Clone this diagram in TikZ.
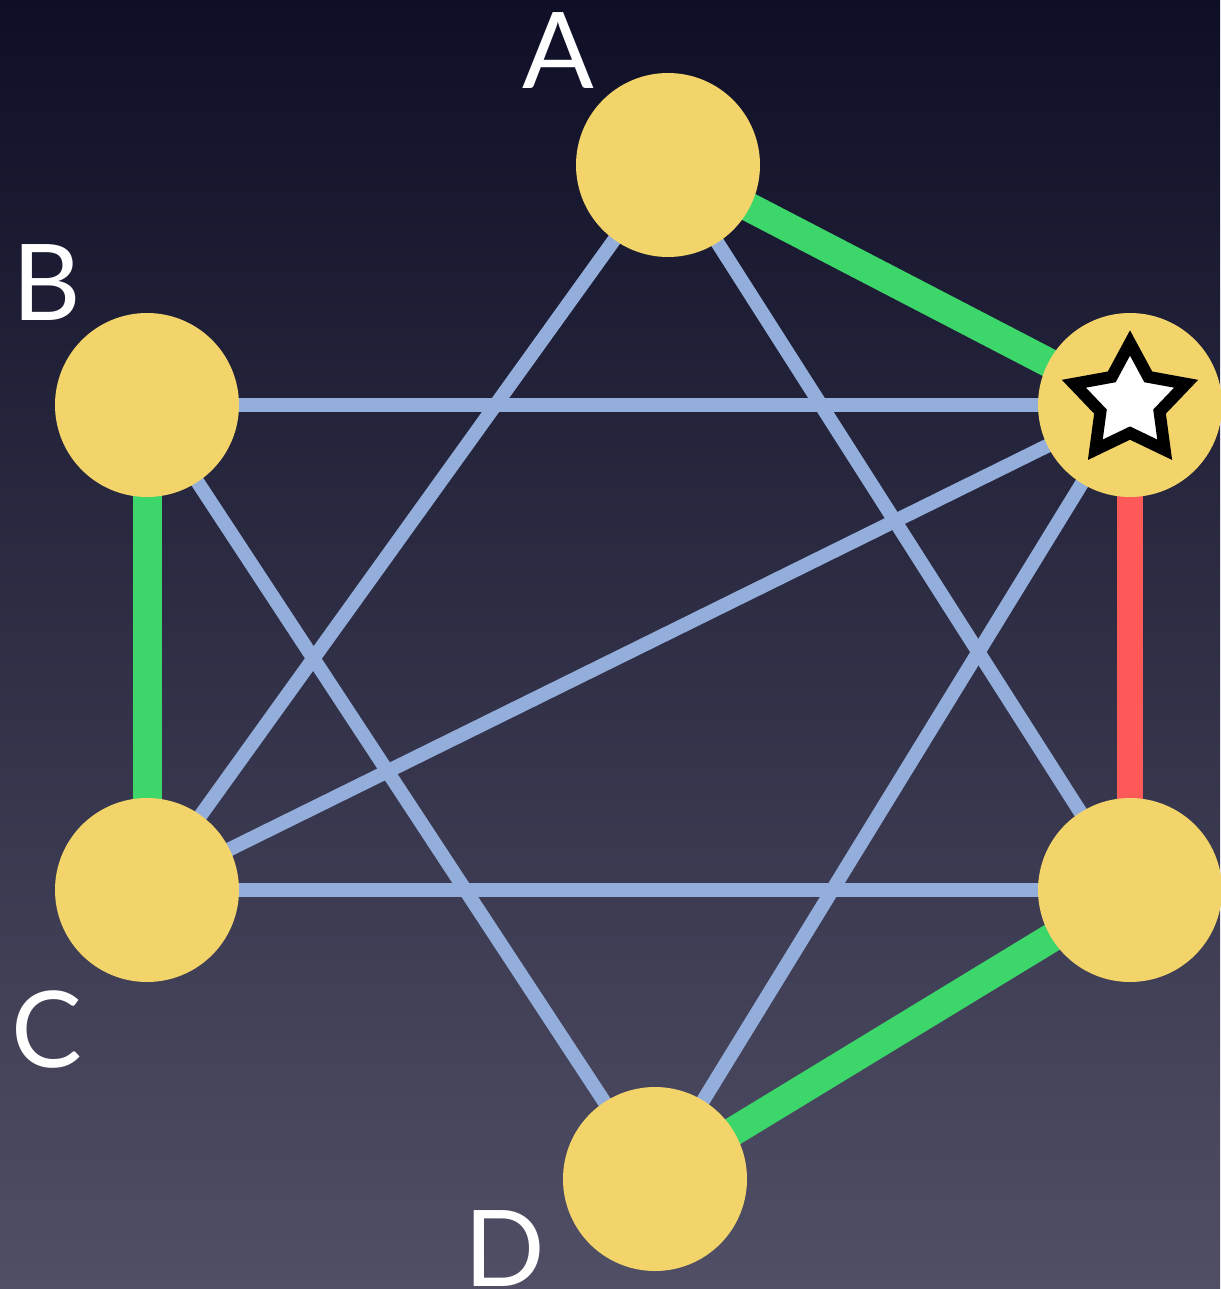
\documentclass[tikz,border=0pt]{standalone}
\usepackage{fontspec}
\setmainfont{Lato}
\usetikzlibrary{shapes.geometric}
\definecolor{skytop}{HTML}{0E0E26}
\definecolor{skybottom}{HTML}{504F66}
\definecolor{nodegold}{HTML}{F2D46A}
\definecolor{edgeblue}{HTML}{94AEDC}
\definecolor{pathgreen}{HTML}{3DD66A}
\definecolor{cutred}{HTML}{FD5959}
\pgfdeclarelayer{sky}
\pgfdeclarelayer{edges}
\pgfsetlayers{sky,edges,main}

\begin{document}
\begin{tikzpicture}[
    x=1pt, y=-1pt,
    vertex/.style={circle, fill=nodegold, minimum size=184pt, inner sep=0pt},
    plain/.style={edgeblue, line width=14pt},
    chosen/.style={pathgreen, line width=29pt},
    cut/.style={cutred, line width=26pt},
    letter/.style={white, anchor=base, font=\fontsize{106}{106}\selectfont}
]

    \useasboundingbox (0,0) rectangle (1220,1289);

    % Background
    \begin{pgfonlayer}{sky}
        \shade[top color=skytop, bottom color=skybottom] (0,0) rectangle (1220,1289);
    \end{pgfonlayer}

    % Vertices
    \node[vertex] (a) at (668,165) {};
    \node[vertex] (s) at (1130,405) {};
    \node[vertex] (b) at (147,405) {};
    \node[vertex] (c) at (147,890) {};
    \node[vertex] (e) at (1130,890) {};
    \node[vertex] (d) at (655,1179) {};

    % Star on the start vertex
    \node[star, star points=5, star point ratio=1.9, minimum size=118pt, inner sep=0pt,
          draw=black, fill=white, line width=12pt] (starmark) at (1130,402) {};

    % Edges
    \begin{pgfonlayer}{edges}
        \draw[plain] (a.center) -- (c.center);
        \draw[plain] (a.center) -- (e.center);
        \draw[plain] (b.center) -- (s.center);
        \draw[plain] (b.center) -- (d.center);
        \draw[plain] (c.center) -- (s.center);
        \draw[plain] (c.center) -- (e.center);
        \draw[plain] (s.center) -- (d.center);
        \draw[chosen] (a.center) -- (s.center);
        \draw[chosen] (b.center) -- (c.center);
        \draw[chosen] (e.center) -- (d.center);
        \draw[cut] (s.center) -- (e.center);
    \end{pgfonlayer}

    % Labels
    \node[letter] (labela) at (558,89) {A};
    \node[letter] (labelb) at (47,320) {B};
    \node[letter] (labelc) at (47,1067) {C};
    \node[letter] (labeld) at (505,1286) {D};

\end{tikzpicture}
\end{document}
